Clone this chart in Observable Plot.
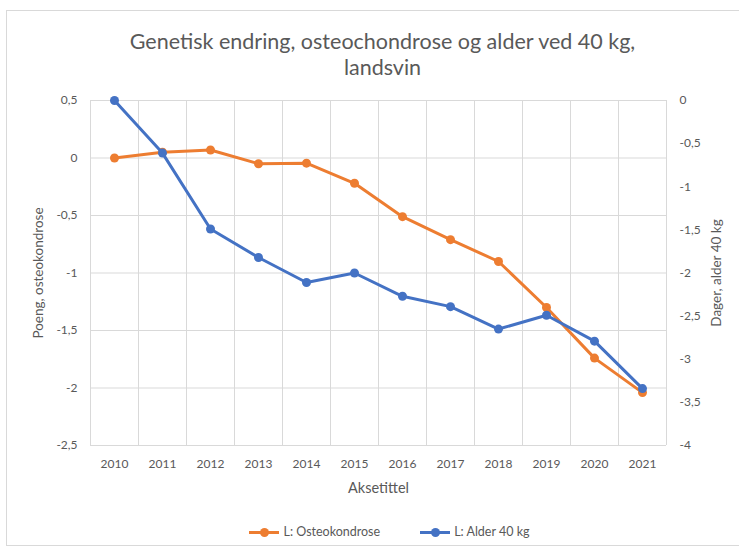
<!DOCTYPE html>
<html>
<head>
<meta charset="utf-8">
<script src="https://cdn.jsdelivr.net/npm/d3@7"></script>
<script src="https://cdn.jsdelivr.net/npm/@observablehq/plot@0.6"></script>
<style>
  html, body { margin: 0; padding: 0; background: #fff; overflow: hidden; }
  #wrap { position: relative; width: 739px; height: 550px; font-family: Lato, "Open Sans", sans-serif; color: #595959; }
  #border { position: absolute; left: 6px; top: 10px; width: 745px; height: 536px; border: 1px solid #d9d9d9; box-sizing: border-box; }
  #title { position: absolute; left: 0; top: 28px; width: 739px; padding-left: 26px; box-sizing: border-box; text-align: center; font-size: 21.5px; line-height: 26px; color: #595959; }
  #chart { position: absolute; left: 0; top: 80px; }
  #legend { position: absolute; left: 0; top: 524px; width: 739px; padding-left: 40px; box-sizing: border-box; display: flex; justify-content: center; align-items: center; font-size: 12.5px; color: #595959; line-height: 16px; }
  .item { display: flex; align-items: center; margin: 0 20px; }
  .sw { position: relative; width: 30px; height: 3px; margin-right: 4px; }
  .sw i { position: absolute; left: 11px; top: -3px; width: 9px; height: 9px; border-radius: 50%; }
</style>
</head>
<body>
<div id="wrap">
  <div id="border"></div>
  <div id="title">Genetisk endring, osteochondrose og alder ved 40 kg,<br>landsvin</div>
  <div id="chart"></div>
  <div id="legend"></div>
</div>
<script>
const years = [2010, 2011, 2012, 2013, 2014, 2015, 2016, 2017, 2018, 2019, 2020, 2021];
const osteo = [0, 0.05, 0.07, -0.05, -0.045, -0.22, -0.51, -0.71, -0.90, -1.30, -1.74, -2.04];
const alder = [0, -0.61, -1.49, -1.82, -2.11, -2.00, -2.27, -2.39, -2.65, -2.49, -2.79, -3.34];
const leftTicks = [0.5, 0, -0.5, -1, -1.5, -2, -2.5];
const rightTicks = [0, -0.5, -1, -1.5, -2, -2.5, -3, -3.5, -4];
const leftDomain = [-2.5, 0.5];
const rightDomain = [-4, 0];
const seriesNames = ["L: Osteokondrose", "L: Alder 40 kg"];
const colors = ["#ED7D31", "#4472C4"];

const toLeft = v => leftDomain[0] + (v - rightDomain[0]) / (rightDomain[1] - rightDomain[0]) * (leftDomain[1] - leftDomain[0]);
const fromLeft = v => Math.round((rightDomain[0] + (v - leftDomain[0]) / (leftDomain[1] - leftDomain[0]) * (rightDomain[1] - rightDomain[0])) * 100) / 100;
const fmt = d => String(d === 0 ? 0 : d).replace(".", ",");

const data = years.map((year, i) => ({year, osteo: osteo[i], alder: alder[i], alderL: toLeft(alder[i])}));
const edges = [...years.map(y => y - 0.5), years[years.length - 1] + 0.5];

const grid = "#d9d9d9";
const chart = Plot.plot({
  width: 739,
  height: 430,
  marginTop: 20,
  marginBottom: 65,
  marginLeft: 90,
  marginRight: 73,
  style: {fontFamily: "Lato, 'Open Sans', sans-serif", background: "transparent"},
  x: {domain: [years[0] - 0.5, years[years.length - 1] + 0.5]},
  y: {domain: leftDomain},
  marks: [
    Plot.ruleY(leftTicks, {stroke: grid, strokeWidth: 1}),
    Plot.ruleX(edges, {stroke: grid, strokeWidth: 1}),
    Plot.axisY(leftTicks, {anchor: "left", tickSize: 0, tickPadding: 13, tickFormat: fmt, fontSize: 12, color: "#595959",
      label: null}),
    Plot.axisY(leftTicks, {anchor: "left", tickSize: 0, text: null, fontSize: 13.5, color: "#595959",
      label: "Poeng, osteokondrose", labelAnchor: "center", labelOffset: 57, labelArrow: "none"}),
    Plot.axisY(rightTicks.map(toLeft), {anchor: "right", tickSize: 0, tickPadding: 13, tickFormat: d => fmt(fromLeft(d)), fontSize: 12, color: "#595959",
      label: null}),
    Plot.axisY(rightTicks.map(toLeft), {anchor: "right", tickSize: 0, text: null, fontSize: 13.5, color: "#595959",
      label: "Dager, alder 40 kg", labelAnchor: "center", labelOffset: 54, labelArrow: "none"}),
    Plot.axisX(years, {tickSize: 0, tickPadding: 14, tickFormat: d => String(d), fontSize: 12, color: "#595959",
      label: null}),
    Plot.axisX(years, {tickSize: 0, text: null, fontSize: 14.5, color: "#595959",
      label: "Aksetittel", labelAnchor: "center", labelOffset: 47, labelArrow: "none"}),
    Plot.line(data, {x: "year", y: "osteo", stroke: colors[0], strokeWidth: 3}),
    Plot.dot(data, {x: "year", y: "osteo", fill: colors[0], r: 4.5}),
    Plot.line(data, {x: "year", y: "alderL", stroke: colors[1], strokeWidth: 3}),
    Plot.dot(data, {x: "year", y: "alderL", fill: colors[1], r: 4.5})
  ]
});
document.getElementById("chart").appendChild(chart);

const legend = document.getElementById("legend");
seriesNames.forEach((name, i) => {
  const item = document.createElement("div");
  item.className = "item";
  item.innerHTML = `<span class="sw" style="background:${colors[i]}"><i style="background:${colors[i]}"></i></span><span>${name}</span>`;
  legend.appendChild(item);
});
</script>
</body>
</html>
